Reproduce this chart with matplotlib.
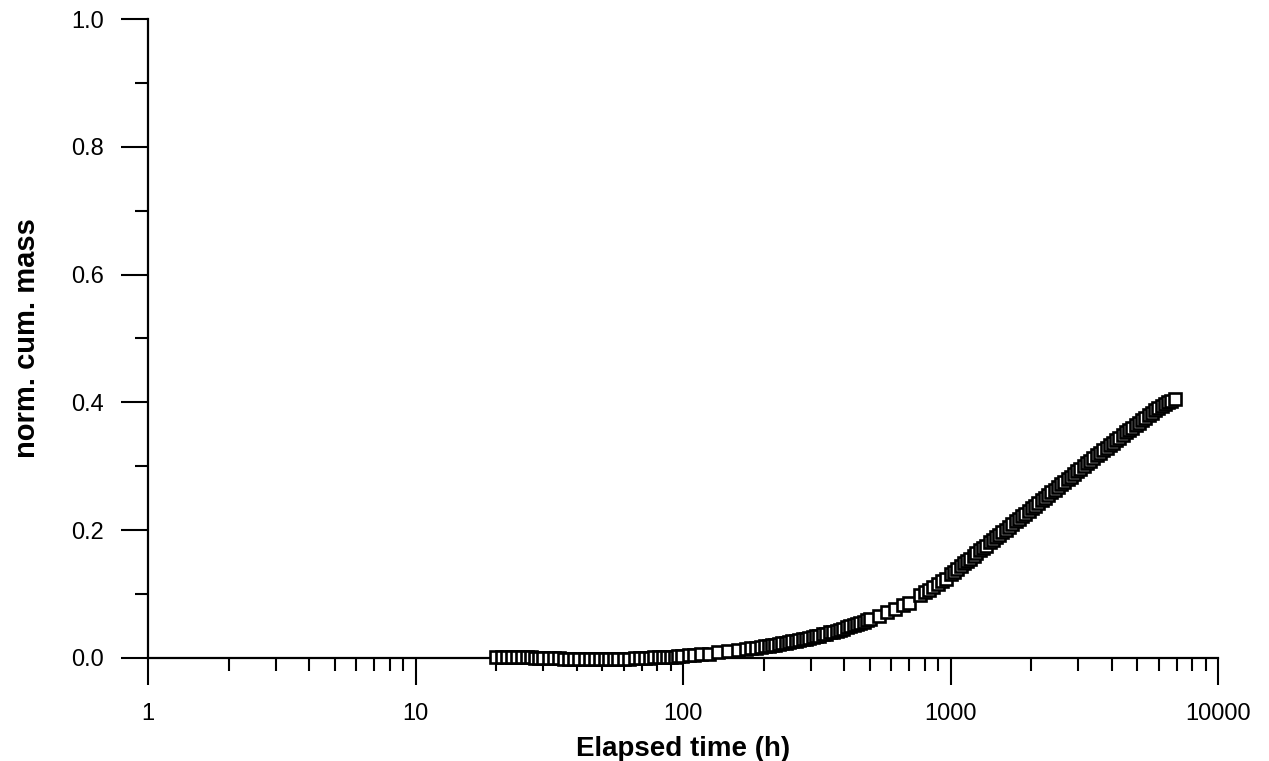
import matplotlib
matplotlib.use("Agg")
import matplotlib.pyplot as plt
from matplotlib.ticker import LogLocator, MultipleLocator, NullFormatter, FixedLocator, FixedFormatter

# Elapsed time (h) and normalised cumulative mass
time_h = [
    20, 21, 22, 23, 24, 25, 26, 27, 28, 29, 30, 31.5, 33, 34.5, 36, 37.5, 39, 41, 43, 45,
    47, 49, 51, 53, 55, 57, 60, 63, 66, 69, 72, 75, 78, 81, 84, 87, 90, 93, 96, 99,
    105, 110, 117, 125, 135, 147, 160, 172, 180, 188, 196,
    203, 209, 215, 221, 228, 235, 242, 249, 256, 264, 272, 280, 288, 296, 305, 314, 323,
    333, 343, 353, 364, 375, 386, 397, 409, 421, 434, 447, 460, 474, 488, 502,
    540, 580, 620, 665, 700, 770, 800, 830, 860, 900, 930, 960,
    1000, 1030, 1060, 1090, 1120, 1150, 1180, 1220, 1250, 1290, 1320, 1360, 1400, 1440,
    1480, 1520, 1560, 1610, 1650, 1700, 1750, 1800, 1850, 1900, 1960, 2010, 2070, 2130,
    2190, 2250, 2310, 2380, 2450, 2520, 2590, 2660, 2740, 2820, 2900, 2980, 3060, 3150,
    3240, 3330, 3420, 3520, 3620, 3720, 3830, 3940, 4050, 4160, 4280, 4400, 4530, 4650,
    4790, 4920, 5060, 5200, 5350, 5500, 5660, 5820, 5980, 6150, 6330, 6500, 6700, 6900,
]
norm_cum_mass = [
    0.001, 0.001, 0.001, 0.001, 0.001, 0.001, 0.001, 0.001, 0.000, 0.000, 0.000, 0.000,
    0.000, 0.000, -0.001, -0.001, -0.001, -0.001, -0.001, -0.001,
    -0.001, -0.001, -0.001, -0.001, -0.001, -0.001, -0.001, -0.001, 0.000, 0.000,
    0.000, 0.000, 0.001, 0.001, 0.001, 0.002, 0.002, 0.002, 0.003, 0.003,
    0.004, 0.005, 0.006, 0.007, 0.009, 0.011, 0.013, 0.014, 0.015, 0.016, 0.017,
    0.018, 0.019, 0.020, 0.021, 0.022, 0.023, 0.024, 0.025, 0.026, 0.027, 0.028, 0.029,
    0.030, 0.031, 0.033, 0.034, 0.035,
    0.037, 0.038, 0.040, 0.041, 0.043, 0.044, 0.046, 0.048, 0.050, 0.051, 0.053, 0.055,
    0.057, 0.059, 0.061,
    0.066, 0.072, 0.077, 0.083, 0.086, 0.099, 0.103, 0.107, 0.111, 0.116, 0.120, 0.124,
    0.131, 0.135, 0.140, 0.144, 0.148, 0.152, 0.155, 0.160, 0.164, 0.169, 0.172, 0.176,
    0.181, 0.185, 0.189, 0.193, 0.197, 0.201, 0.205, 0.209, 0.214, 0.218, 0.222, 0.226,
    0.230, 0.234, 0.238, 0.243, 0.247, 0.251, 0.255, 0.259, 0.263, 0.267, 0.272, 0.275,
    0.280, 0.284, 0.288, 0.292, 0.296, 0.300, 0.305, 0.309, 0.313, 0.317, 0.321, 0.325,
    0.329, 0.333, 0.337, 0.341, 0.345, 0.349, 0.353, 0.357, 0.360, 0.364, 0.368, 0.372,
    0.376, 0.380, 0.384, 0.388, 0.391, 0.394, 0.397, 0.400, 0.402, 0.405,
]

x_tick_values = [1, 10, 100, 1000, 10000]
x_tick_labels = ["1", "10", "100", "1000", "10000"]
y_tick_values = [0.0, 0.2, 0.4, 0.6, 0.8, 1.0]
y_tick_labels = ["0.0", "0.2", "0.4", "0.6", "0.8", "1.0"]

plt.rcParams["font.family"] = ["Liberation Sans", "DejaVu Sans"]

fig = plt.figure(figsize=(12.69, 7.61), dpi=100)
ax = fig.add_axes([148 / 1269, 1 - 658 / 761, (1218 - 148) / 1269, (658 - 19) / 761])

ax.plot(time_h, norm_cum_mass, linestyle="none", marker="s", markersize=8.5,
        markerfacecolor="white", markeredgecolor="black", markeredgewidth=1.9,
        clip_on=False, zorder=5)

ax.set_xscale("log")
ax.set_xlim(1, 10000)
ax.set_ylim(0, 1.0)

ax.xaxis.set_major_locator(FixedLocator(x_tick_values))
ax.xaxis.set_major_formatter(FixedFormatter(x_tick_labels))
ax.xaxis.set_minor_locator(LogLocator(base=10, subs=range(2, 10)))
ax.xaxis.set_minor_formatter(NullFormatter())
ax.yaxis.set_major_locator(FixedLocator(y_tick_values))
ax.yaxis.set_major_formatter(FixedFormatter(y_tick_labels))
ax.yaxis.set_minor_locator(MultipleLocator(0.1))

for s in ["top", "right"]:
    ax.spines[s].set_visible(False)
for s in ["left", "bottom"]:
    ax.spines[s].set_linewidth(1.6)

ax.tick_params(which="major", direction="out", length=19.5, width=1.5, labelsize=17)
ax.tick_params(which="minor", direction="out", length=9.5, width=1.5)
ax.tick_params(axis="x", which="major", pad=13)
ax.tick_params(axis="y", which="major", pad=12)

ax.set_xlabel("Elapsed time (h)", fontsize=20, fontweight="bold", labelpad=8)
ax.set_ylabel("norm. cum. mass", fontsize=21, fontweight="bold", labelpad=22)

fig.savefig("out.png", dpi=100)
